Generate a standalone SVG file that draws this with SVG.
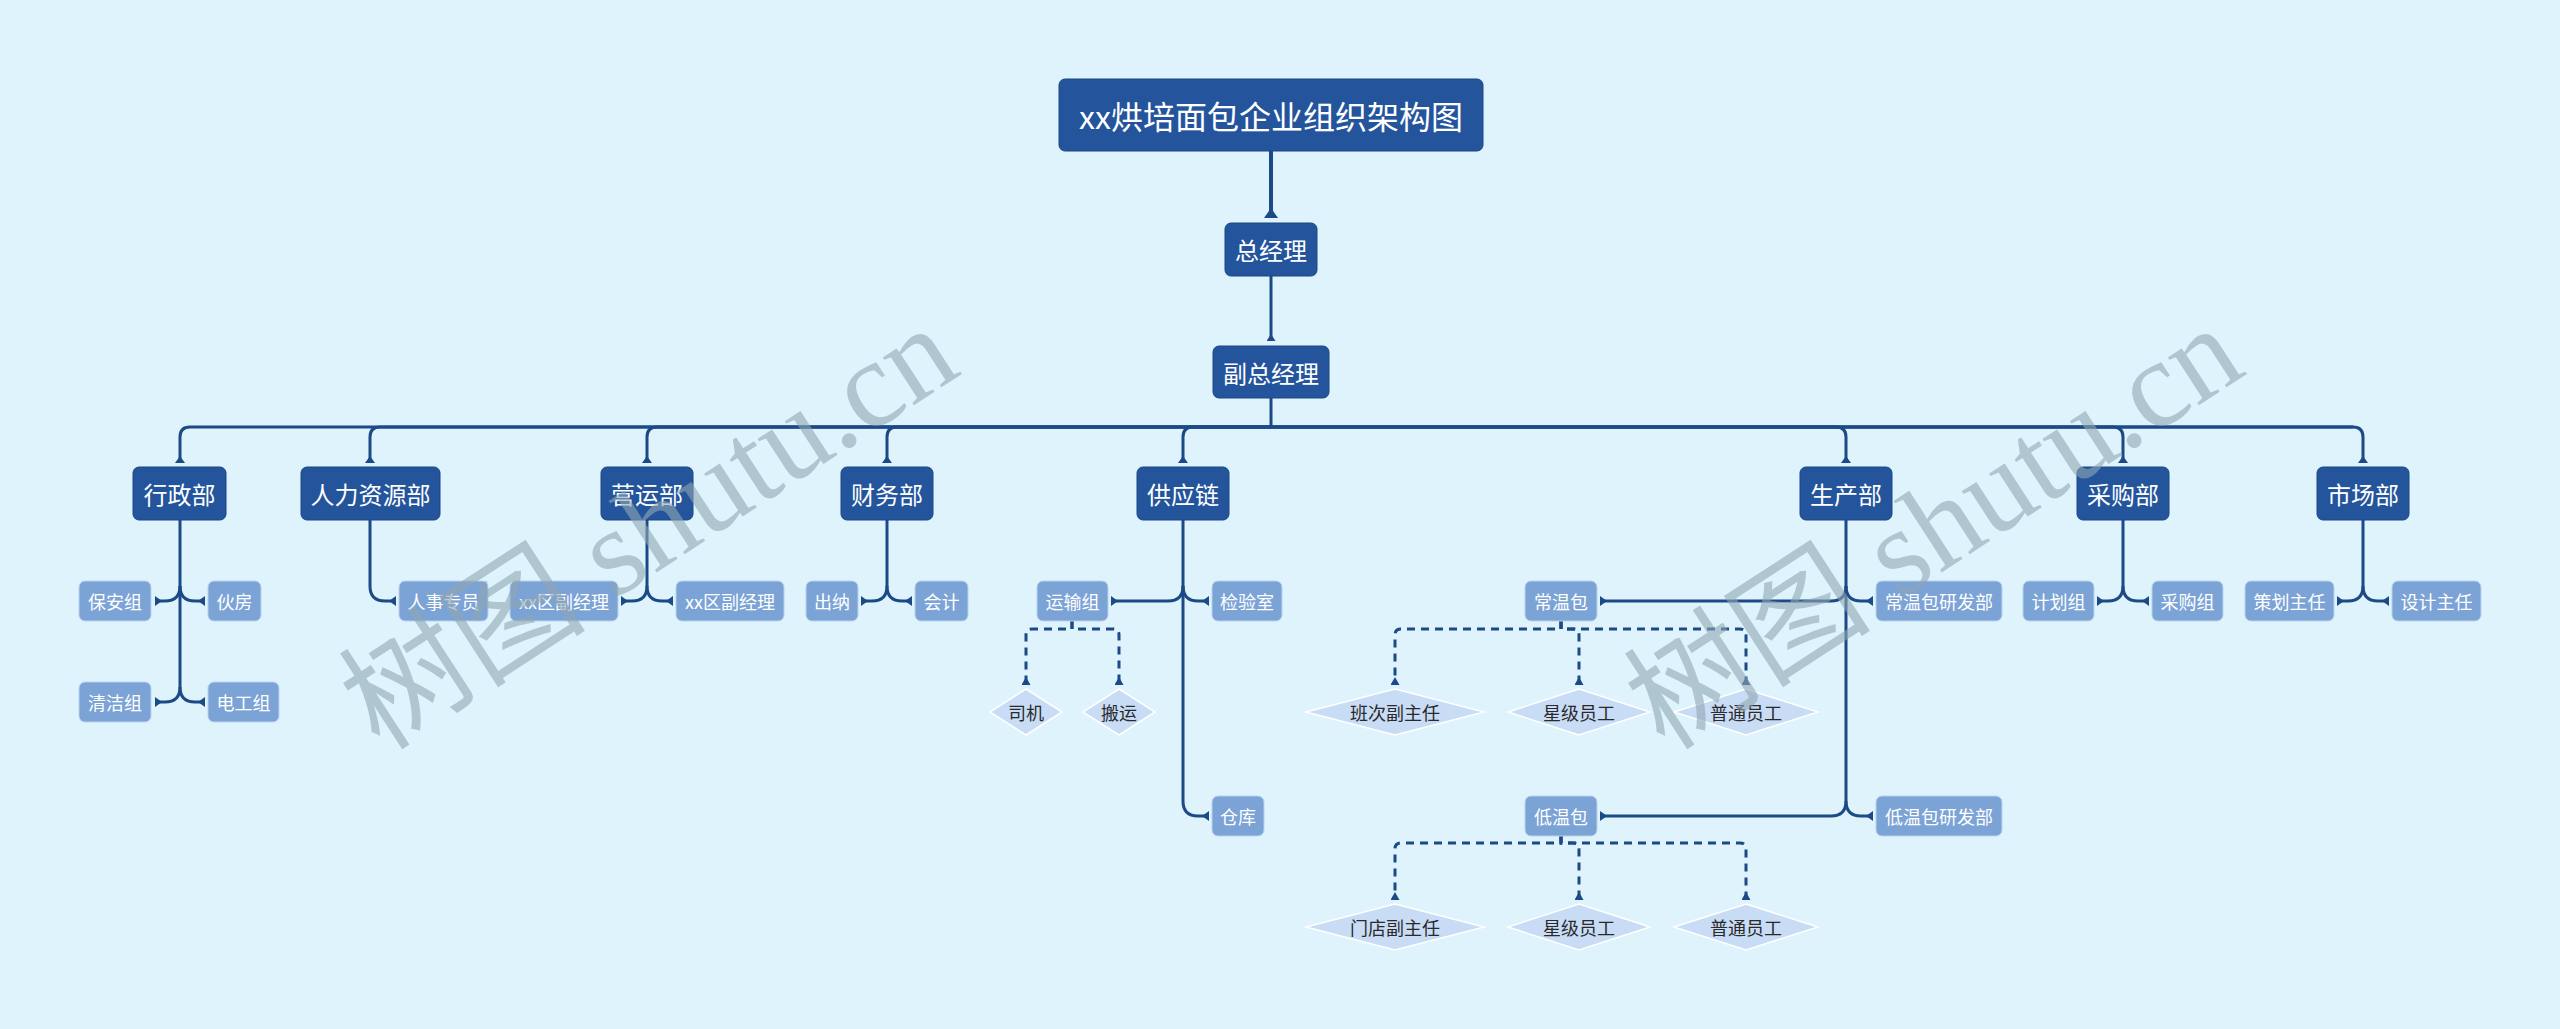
<svg xmlns="http://www.w3.org/2000/svg" width="2560" height="1029" viewBox="0 0 2560 1029">
<style>
.bg{fill:#DEF3FC}
.title{fill:#24559C;stroke:#1B4785;stroke-width:1}
.dept{fill:#24559C;stroke:#1B4785;stroke-width:1}
.leaf{fill:#7BA3D6;stroke:#B9D2EE;stroke-width:1}
.dia{fill:#C8DCF6;stroke:#FFFFFF;stroke-width:1.5}
.tw{fill:#FFFFFF;font-family:"Noto Sans CJK SC","Noto Sans",sans-serif;text-anchor:middle;dominant-baseline:central}
.td{fill:#2A2A2A;font-family:"Noto Sans CJK SC","Noto Sans",sans-serif;text-anchor:middle;dominant-baseline:central;font-size:18px}
.fT{font-size:32px}
.fD{font-size:24px}
.fL{font-size:18px}
.ln{fill:none;stroke:#1C4A86;stroke-width:3;stroke-linejoin:round}
.lnT{fill:none;stroke:#1C4A86;stroke-width:4}
.dash{fill:none;stroke:#1C4A86;stroke-width:3;stroke-dasharray:8 6}
.wm{font-family:"Liberation Serif","Noto Sans CJK SC",serif;font-size:124px;fill:#8FA7B2;fill-opacity:0.6}
</style>
<defs>
<marker id="mT" markerUnits="userSpaceOnUse" viewBox="0 0 10 14" markerWidth="10" markerHeight="14" refX="10" refY="7" orient="auto"><path d="M0,7 L10,0 L10,14 z" fill="#1C4A86"/></marker>
<marker id="mM" markerUnits="userSpaceOnUse" viewBox="0 0 7 9" markerWidth="7" markerHeight="9" refX="7" refY="4.5" orient="auto"><path d="M0,4.5 L7,0 L7,9 z" fill="#1C4A86"/></marker>
<marker id="mL" markerUnits="userSpaceOnUse" viewBox="0 0 7 10" markerWidth="7" markerHeight="10" refX="7" refY="5" orient="auto"><path d="M0,5 L7,0 L7,10 z" fill="#1C4A86"/></marker>
<marker id="mD" markerUnits="userSpaceOnUse" viewBox="0 0 8 9" markerWidth="8" markerHeight="9" refX="8" refY="4.5" orient="auto"><path d="M0,4.5 L8,0 L8,9 z" fill="#1C4A86"/></marker>
</defs>
<rect class="bg" x="0" y="0" width="2560" height="1029"/>

<g id="connectors">
<path class="lnT" d="M1271,151 V218" marker-end="url(#mT)"/>
<path class="ln" d="M1271,276 V341" marker-end="url(#mM)"/>
<path class="ln" d="M1271,398 V427 H2353"/>
<path class="ln" d="M1271,427 H190 Q180,427 180,437 V463" marker-end="url(#mL)"/>
<path class="ln" d="M1271,427 H380 Q370,427 370,437 V463" marker-end="url(#mL)"/>
<path class="ln" d="M1271,427 H657 Q647,427 647,437 V463" marker-end="url(#mL)"/>
<path class="ln" d="M1271,427 H897 Q887,427 887,437 V463" marker-end="url(#mL)"/>
<path class="ln" d="M1271,427 H1193 Q1183,427 1183,437 V463" marker-end="url(#mL)"/>
<path class="ln" d="M1271,427 H1836 Q1846,427 1846,437 V463" marker-end="url(#mL)"/>
<path class="ln" d="M1271,427 H2113 Q2123,427 2123,437 V463" marker-end="url(#mL)"/>
<path class="ln" d="M1271,427 H2353 Q2363,427 2363,437 V463" marker-end="url(#mL)"/>

<path class="ln" d="M180,520 V687"/>
<path class="ln" d="M180,586 Q180,601 165,601 H155" marker-end="url(#mL)"/>
<path class="ln" d="M180,586 Q180,601 195,601 H205" marker-end="url(#mL)"/>
<path class="ln" d="M180,687 Q180,702 165,702 H155" marker-end="url(#mL)"/>
<path class="ln" d="M180,687 Q180,702 195,702 H205" marker-end="url(#mL)"/>

<path class="ln" d="M370,520 V586 Q370,601 385,601 H396" marker-end="url(#mL)"/>

<path class="ln" d="M647,520 V586"/>
<path class="ln" d="M647,586 Q647,601 632,601 H621" marker-end="url(#mL)"/>
<path class="ln" d="M647,586 Q647,601 662,601 H673" marker-end="url(#mL)"/>

<path class="ln" d="M887,520 V586"/>
<path class="ln" d="M887,586 Q887,601 872,601 H861" marker-end="url(#mL)"/>
<path class="ln" d="M887,586 Q887,601 902,601 H912" marker-end="url(#mL)"/>

<path class="ln" d="M1183,520 V801"/>
<path class="ln" d="M1183,586 Q1183,601 1168,601 H1111" marker-end="url(#mL)"/>
<path class="ln" d="M1183,586 Q1183,601 1198,601 H1209" marker-end="url(#mL)"/>
<path class="ln" d="M1183,801 Q1183,816 1198,816 H1209" marker-end="url(#mL)"/>

<path class="ln" d="M1846,520 V801"/>
<path class="ln" d="M1846,586 Q1846,601 1831,601 H1600" marker-end="url(#mL)"/>
<path class="ln" d="M1846,586 Q1846,601 1861,601 H1873" marker-end="url(#mL)"/>
<path class="ln" d="M1846,801 Q1846,816 1831,816 H1600" marker-end="url(#mL)"/>
<path class="ln" d="M1846,801 Q1846,816 1861,816 H1873" marker-end="url(#mL)"/>

<path class="ln" d="M2123,520 V586"/>
<path class="ln" d="M2123,586 Q2123,601 2108,601 H2097" marker-end="url(#mL)"/>
<path class="ln" d="M2123,586 Q2123,601 2138,601 H2149" marker-end="url(#mL)"/>

<path class="ln" d="M2363,520 V586"/>
<path class="ln" d="M2363,586 Q2363,601 2348,601 H2337" marker-end="url(#mL)"/>
<path class="ln" d="M2363,586 Q2363,601 2378,601 H2389" marker-end="url(#mL)"/>

<path class="dash" d="M1072,621 V629 H1032 Q1026,629 1026,635 V685" marker-end="url(#mD)"/>
<path class="dash" d="M1072,621 V629 H1113 Q1119,629 1119,635 V685" marker-end="url(#mD)"/>

<path class="dash" d="M1561,621 V629 H1401 Q1395,629 1395,635 V685" marker-end="url(#mD)"/>
<path class="dash" d="M1561,621 V629 H1573 Q1579,629 1579,635 V685" marker-end="url(#mD)"/>
<path class="dash" d="M1561,621 V629 H1740 Q1746,629 1746,635 V685" marker-end="url(#mD)"/>

<path class="dash" d="M1561,836 V843 H1401 Q1395,843 1395,849 V900" marker-end="url(#mD)"/>
<path class="dash" d="M1561,836 V843 H1573 Q1579,843 1579,849 V900" marker-end="url(#mD)"/>
<path class="dash" d="M1561,836 V843 H1740 Q1746,843 1746,849 V900" marker-end="url(#mD)"/>
</g>

<g id="title"><rect class="title" x="1059" y="79" width="424" height="72" rx="6"/><text class="tw fT" x="1271" y="115">xx烘培面包企业组织架构图</text></g>
<g id="ceo"><rect class="dept" x="1225" y="223" width="92" height="53" rx="6"/><text class="tw fD" x="1271" y="249.5">总经理</text></g>
<g id="vp"><rect class="dept" x="1213" y="346" width="116" height="52" rx="6"/><text class="tw fD" x="1271" y="372">副总经理</text></g>

<g id="d-xingzheng"><rect class="dept" x="133" y="467" width="93" height="53" rx="6"/><text class="tw fD" x="179.5" y="493.5">行政部</text></g>
<g id="d-hr"><rect class="dept" x="301" y="467" width="139" height="53" rx="6"/><text class="tw fD" x="370.5" y="493.5">人力资源部</text></g>
<g id="d-yunying"><rect class="dept" x="601" y="467" width="92" height="53" rx="6"/><text class="tw fD" x="647" y="493.5">营运部</text></g>
<g id="d-caiwu"><rect class="dept" x="841" y="467" width="92" height="53" rx="6"/><text class="tw fD" x="887" y="493.5">财务部</text></g>
<g id="d-gongying"><rect class="dept" x="1137" y="467" width="92" height="53" rx="6"/><text class="tw fD" x="1183" y="493.5">供应链</text></g>
<g id="d-shengchan"><rect class="dept" x="1800" y="467" width="92" height="53" rx="6"/><text class="tw fD" x="1846" y="493.5">生产部</text></g>
<g id="d-caigou"><rect class="dept" x="2077" y="467" width="92" height="53" rx="6"/><text class="tw fD" x="2123" y="493.5">采购部</text></g>
<g id="d-shichang"><rect class="dept" x="2317" y="467" width="92" height="53" rx="6"/><text class="tw fD" x="2363" y="493.5">市场部</text></g>

<g id="l-baoan"><rect class="leaf" x="79" y="581" width="72" height="40" rx="6"/><text class="tw fL" x="115" y="601">保安组</text></g>
<g id="l-huofang"><rect class="leaf" x="208" y="581" width="53" height="40" rx="6"/><text class="tw fL" x="234.5" y="601">伙房</text></g>
<g id="l-qingjie"><rect class="leaf" x="79" y="682" width="72" height="40" rx="6"/><text class="tw fL" x="115" y="702">清洁组</text></g>
<g id="l-diangong"><rect class="leaf" x="208" y="682" width="71" height="40" rx="6"/><text class="tw fL" x="243.5" y="702">电工组</text></g>
<g id="l-renshi"><rect class="leaf" x="399" y="581" width="89" height="40" rx="6"/><text class="tw fL" x="443.5" y="601">人事专员</text></g>
<g id="l-fujingli1"><rect class="leaf" x="510" y="581" width="108" height="40" rx="6"/><text class="tw fL" x="564" y="601">xx区副经理</text></g>
<g id="l-fujingli2"><rect class="leaf" x="676" y="581" width="108" height="40" rx="6"/><text class="tw fL" x="730" y="601">xx区副经理</text></g>
<g id="l-chuna"><rect class="leaf" x="806" y="581" width="52" height="40" rx="6"/><text class="tw fL" x="832" y="601">出纳</text></g>
<g id="l-kuaiji"><rect class="leaf" x="915" y="581" width="53" height="40" rx="6"/><text class="tw fL" x="941.5" y="601">会计</text></g>
<g id="l-yunshu"><rect class="leaf" x="1037" y="581" width="71" height="40" rx="6"/><text class="tw fL" x="1072.5" y="601">运输组</text></g>
<g id="l-jianyan"><rect class="leaf" x="1212" y="581" width="70" height="40" rx="6"/><text class="tw fL" x="1247" y="601">检验室</text></g>
<g id="l-cangku"><rect class="leaf" x="1212" y="796" width="52" height="40" rx="6"/><text class="tw fL" x="1238" y="816">仓库</text></g>
<g id="l-changwen"><rect class="leaf" x="1525" y="581" width="72" height="40" rx="6"/><text class="tw fL" x="1561" y="601">常温包</text></g>
<g id="l-changwenyf"><rect class="leaf" x="1876" y="581" width="126" height="40" rx="6"/><text class="tw fL" x="1939" y="601">常温包研发部</text></g>
<g id="l-diwen"><rect class="leaf" x="1525" y="796" width="72" height="40" rx="6"/><text class="tw fL" x="1561" y="816">低温包</text></g>
<g id="l-diwenyf"><rect class="leaf" x="1876" y="796" width="126" height="40" rx="6"/><text class="tw fL" x="1939" y="816">低温包研发部</text></g>
<g id="l-jihua"><rect class="leaf" x="2023" y="581" width="71" height="40" rx="6"/><text class="tw fL" x="2058.5" y="601">计划组</text></g>
<g id="l-caigouzu"><rect class="leaf" x="2152" y="581" width="71" height="40" rx="6"/><text class="tw fL" x="2187.5" y="601">采购组</text></g>
<g id="l-cehua"><rect class="leaf" x="2245" y="581" width="89" height="40" rx="6"/><text class="tw fL" x="2289.5" y="601">策划主任</text></g>
<g id="l-sheji"><rect class="leaf" x="2392" y="581" width="89" height="40" rx="6"/><text class="tw fL" x="2436.5" y="601">设计主任</text></g>

<g id="dm-siji"><polygon class="dia" points="1026,689 1062,712 1026,735 990,712"/><text class="td" x="1026" y="712">司机</text></g>
<g id="dm-banyun"><polygon class="dia" points="1119,689 1155,712 1119,735 1083,712"/><text class="td" x="1119" y="712">搬运</text></g>
<g id="dm-banci"><polygon class="dia" points="1395,689 1484,712 1395,735 1306,712"/><text class="td" x="1395" y="712">班次副主任</text></g>
<g id="dm-xingji1"><polygon class="dia" points="1579,689 1650,712 1579,735 1508,712"/><text class="td" x="1579" y="712">星级员工</text></g>
<g id="dm-putong1"><polygon class="dia" points="1746,689 1818,712 1746,735 1674,712"/><text class="td" x="1746" y="712">普通员工</text></g>
<g id="dm-mendian"><polygon class="dia" points="1395,904 1484,927 1395,950 1306,927"/><text class="td" x="1395" y="927">门店副主任</text></g>
<g id="dm-xingji2"><polygon class="dia" points="1579,904 1650,927 1579,950 1508,927"/><text class="td" x="1579" y="927">星级员工</text></g>
<g id="dm-putong2"><polygon class="dia" points="1746,904 1818,927 1746,950 1674,927"/><text class="td" x="1746" y="927">普通员工</text></g>

<g id="watermark">
<text class="wm" transform="translate(380,752) rotate(-33)">树图 shutu.cn</text>
<text class="wm" transform="translate(1665,752) rotate(-33)">树图 shutu.cn</text>
</g>
</svg>
